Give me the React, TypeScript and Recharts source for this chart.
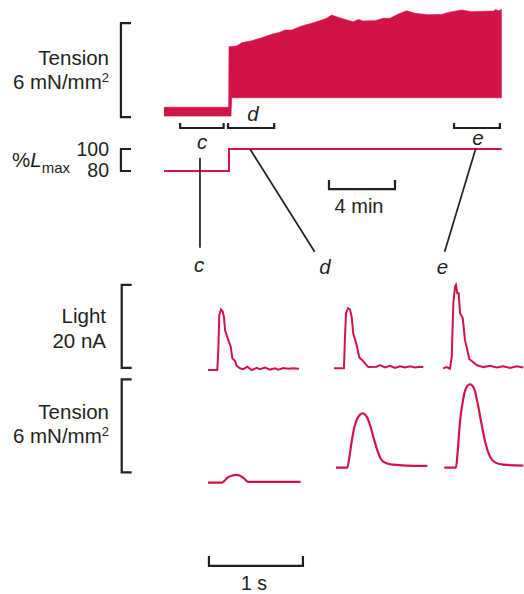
import { ComposedChart, Area, Line, XAxis, YAxis } from 'recharts'

const RED = '#d21346'
const INK = '#231f20'
const FONT = '"Liberation Sans", Arial, Helvetica, sans-serif'

// slow record, time in minutes; tension envelope in mN/mm² (resting level / twitch peaks)
const slowTime = [0, 3.92, 3.94, 4.06, 4.1, 4.41, 4.71, 5.32, 5.92, 6.53, 7.03, 7.33, 7.74, 8.35, 8.95, 9.56, 9.86, 10.16, 10.47, 10.97, 11.47, 11.78, 12.08, 12.48, 12.79, 13.29, 13.7, 14.2, 14.71, 15.21, 16.02, 16.83, 17.23, 18.04, 18.65, 19.45, 19.96, 20.1, 20.26, 20.47]
const slowTensionLow = [0.06, 0.06, 0.06, 0.06, 1.23, 1.23, 1.23, 1.23, 1.23, 1.23, 1.23, 1.23, 1.23, 1.23, 1.23, 1.23, 1.23, 1.23, 1.23, 1.23, 1.23, 1.23, 1.23, 1.23, 1.23, 1.23, 1.23, 1.23, 1.23, 1.23, 1.23, 1.23, 1.23, 1.23, 1.23, 1.23, 1.23, 1.23, 1.23, 1.23]
const slowTensionHigh = [0.62, 0.62, 4.49, 4.5, 4.5, 4.53, 4.74, 4.87, 5.06, 5.28, 5.41, 5.55, 5.55, 5.81, 5.98, 6.19, 6.3, 6.51, 6.4, 6.23, 6.08, 6.23, 6.13, 6.15, 6.15, 6.3, 6.3, 6.57, 6.78, 6.62, 6.53, 6.55, 6.68, 6.83, 6.72, 6.75, 6.76, 6.87, 6.78, 6.87]

// muscle length, % of Lmax
const lengthTime = [0, 3.94, 3.94, 20.47]
const lengthPct = [80, 80, 100, 100]

// windows c, d, e (minutes) and the links down to the fast records
const windowNames = ['c', 'd', 'e']
const windowStart = [0.98, 3.88, 17.58]
const windowEnd = [3.61, 6.68, 20.36]
const linkTopTime = [2.18, 5.21, 18.9]
const linkTopPct = [92, 100, 100.6]
const linkBottomTime = [2.18, 9.13, 17.01]
const linkBottomPct = [10.3, 6.6, 6.6]

// fast records, time in s; light in nA, tension in mN/mm²
const cLightTime = [0, 0.099, 0.11, 0.12, 0.138, 0.156, 0.17, 0.181, 0.216, 0.241, 0.259, 0.287, 0.305, 0.34, 0.376, 0.418, 0.465, 0.518, 0.553, 0.606, 0.66, 0.713, 0.748, 0.801, 0.854, 0.907, 0.968]
const cLight = [0, 0, 4.8, 13.3, 14.6, 14.1, 12.8, 9.6, 7.2, 5.7, 2.8, 2.2, 1.0, 0.4, 0.2, 0.8, 0, 0.5, 0.2, 0.6, 0.1, 0.4, 0.1, 0.5, 0.3, 0.4, 0.3]
const cForceTime = [0, 0.146, 0.175, 0.199, 0.252, 0.298, 0.34, 0.383, 0.429, 0.986]
const cForce = [0, 0, 0.12, 0.28, 0.45, 0.5, 0.45, 0.28, 0.05, 0.05]

const dLightTime = [0, 0.106, 0.117, 0.128, 0.149, 0.17, 0.188, 0.205, 0.241, 0.269, 0.295, 0.33, 0.365, 0.454, 0.489, 0.543, 0.596, 0.649, 0.702, 0.755, 0.809, 0.862, 0.915, 0.95]
const dLight = [0.4, 0.4, 8.0, 13.7, 14.9, 14.6, 12.8, 8.8, 6.0, 3.0, 2.5, 1.6, 0.7, 0.8, 1.2, 0.6, 1.0, 0.5, 0.9, 0.6, 0.9, 0.6, 0.8, 0.7]
const dForceTime = [0.021, 0.141, 0.162, 0.188, 0.223, 0.259, 0.305, 0.348, 0.383, 0.418, 0.454, 0.507, 0.56, 0.631, 0.773, 0.993]
const dForce = [0.97, 0.97, 1.57, 2.65, 3.72, 4.26, 4.48, 4.26, 3.72, 2.97, 2.22, 1.46, 1.25, 1.16, 1.1, 1.08]

const eLightTime = [0, 0.039, 0.074, 0.093, 0.11, 0.128, 0.138, 0.152, 0.167, 0.181, 0.21, 0.234, 0.259, 0.28, 0.316, 0.358, 0.429, 0.5, 0.571, 0.642, 0.713, 0.784, 0.854]
const eLight = [0.4, 0.7, 0.3, 3.2, 16.1, 20.1, 20.5, 18.5, 18.5, 13.7, 12.5, 7.2, 4.8, 2.6, 2.0, 1.2, 0.7, 1.0, 0.6, 0.9, 0.5, 0.9, 0.6]
const eForceTime = [0.014, 0.138, 0.156, 0.181, 0.21, 0.245, 0.287, 0.33, 0.365, 0.412, 0.457, 0.5, 0.553, 0.641, 0.854]
const eForce = [0.97, 0.97, 2.0, 3.94, 5.23, 6.09, 6.35, 6.09, 5.23, 3.72, 2.43, 1.68, 1.31, 1.16, 1.1]

// scale bars, in data units
const tensionBar = [0, 6]
const lengthBar = [80, 100]
const minutesBar = [10, 14]
const lightBar = [0.5, 20.5]
const twitchTensionBar = [0.67, 6.67]
const secondsBar = [0.01, 1.01]

type Pt = { t: number; v: number }
const zip = (ts: number[], vs: number[]): Pt[] => ts.map((t, i) => ({ t, v: vs[i] }))

// "[" shaped bar
const vBar = (x: number, tick: number, [lo, hi]: number[]): Pt[] => [
  { t: tick, v: hi }, { t: x, v: hi }, { t: x, v: lo }, { t: tick, v: lo },
]
// open-topped bar
const hBar = ([a, b]: number[], y: number, tick: number): Pt[] => [
  { t: a, v: tick }, { t: a, v: y }, { t: b, v: y }, { t: b, v: tick },
]

const inkLine = (key: string, data: Pt[], yAxisId: string, width = 2.2, color = INK, type: 'linear' | 'monotone' = 'linear') => (
  <Line
    key={key}
    data={data}
    dataKey="v"
    yAxisId={yAxisId}
    type={type}
    stroke={color}
    strokeWidth={width}
    strokeLinejoin="miter"
    dot={false}
    activeDot={false}
    isAnimationActive={false}
  />
)

const noMargin = { top: 0, right: 0, bottom: 0, left: 0 }

function SlowRecord() {
  const envelope = slowTime.map((t, i) => ({ t, tension: [slowTensionLow[i], slowTensionHigh[i]] }))
  const scaleX = -2.61
  const scaleTick = -2.0
  return (
    <ComposedChart width={524} height={290} margin={noMargin} style={{ position: 'absolute', left: 0, top: 0 }}>
      <XAxis type="number" dataKey="t" hide domain={[-9.94, 21.82]} allowDataOverflow />
      <YAxis yAxisId="tension" type="number" hide domain={[-11.04, 7.47]} allowDataOverflow />
      <YAxis yAxisId="length" type="number" hide domain={[-28.18, 235.45]} allowDataOverflow />
      <Area
        data={envelope}
        dataKey="tension"
        yAxisId="tension"
        type="linear"
        stroke={RED}
        strokeWidth={0.6}
        fill={RED}
        fillOpacity={1}
        dot={false}
        activeDot={false}
        isAnimationActive={false}
      />
      {inkLine('length', zip(lengthTime, lengthPct), 'length', 2, RED)}
      {inkLine('tensionBar', vBar(scaleX, scaleTick, tensionBar), 'tension')}
      {inkLine('lengthBar', vBar(scaleX, scaleTick, lengthBar), 'length')}
      {inkLine('minutesBar', hBar(minutesBar, 63.6, 71.8), 'length')}
      {windowNames.map((n, i) => inkLine(`win-${n}`, hBar([windowStart[i], windowEnd[i]], -0.7, -0.38), 'tension'))}
      {windowNames.map((n, i) =>
        inkLine(
          `link-${n}`,
          [
            { t: linkTopTime[i], v: linkTopPct[i] },
            { t: linkBottomTime[i], v: linkBottomPct[i] },
          ],
          'length',
          1.7,
        ),
      )}
    </ComposedChart>
  )
}

interface FastProps {
  left: number
  width: number
  domain: number[]
  light: Pt[]
  force: Pt[]
  withScales?: boolean
}

function FastRecord({ left, width, domain, light, force, withScales }: FastProps) {
  return (
    <ComposedChart width={width} height={324} margin={noMargin} style={{ position: 'absolute', left, top: 270 }}>
      <XAxis type="number" dataKey="t" hide domain={domain} allowDataOverflow />
      <YAxis yAxisId="light" type="number" hide domain={[-53.98, 24.1]} allowDataOverflow />
      <YAxis yAxisId="force" type="number" hide domain={[-7.18, 13.72]} allowDataOverflow />
      {inkLine('light', light, 'light', 2, RED)}
      {inkLine('force', force, 'force', 2.2, RED, 'monotone')}
      {withScales && inkLine('lightBar', vBar(-0.918, -0.812, lightBar), 'light')}
      {withScales && inkLine('forceBar', vBar(-0.918, -0.812, twitchTensionBar), 'force')}
      {withScales && inkLine('secondsBar', hBar(secondsBar, -5.37, -4.73), 'force')}
    </ComposedChart>
  )
}

function Labels() {
  const base = { fontFamily: FONT, fontSize: 20.5, fill: INK }
  const end = { ...base, textAnchor: 'end' as const }
  const mid = { ...base, textAnchor: 'middle' as const }
  const it = { ...mid, fontStyle: 'italic' as const }
  return (
    <svg width={524} height={594} style={{ position: 'absolute', left: 0, top: 0, pointerEvents: 'none' }}>
      <text x={109} y={65} {...end}>Tension</text>
      <text x={109} y={89} {...end}>
        <tspan>6 mN/mm</tspan>
        <tspan dy={-7.5} fontSize={13}>2</tspan>
      </text>
      <text x={12} y={167} {...base}>
        <tspan>%</tspan>
        <tspan fontStyle="italic">L</tspan>
        <tspan dy={6} fontSize={15}>max</tspan>
      </text>
      <text x={109} y={155.5} {...end} fontSize={19.5}>100</text>
      <text x={109} y={177} {...end} fontSize={19.5}>80</text>

      <text x={253} y={120.5} {...it}>d</text>
      <text x={202} y={148.5} {...it}>c</text>
      <text x={478} y={145} {...it}>e</text>
      <text x={359} y={213} {...mid} fontSize={20}>4 min</text>

      <text x={199} y={271.5} {...it}>c</text>
      <text x={325} y={273.5} {...it}>d</text>
      <text x={442.5} y={274} {...it}>e</text>

      <text x={106} y={323} {...end}>Light</text>
      <text x={106} y={347.5} {...end}>20 nA</text>
      <text x={109} y={419} {...end}>Tension</text>
      <text x={109} y={443} {...end}>
        <tspan>6 mN/mm</tspan>
        <tspan dy={-7.5} fontSize={13}>2</tspan>
      </text>
      <text x={254} y={590} {...mid} fontSize={19.5}>1 s</text>
    </svg>
  )
}

export default function App() {
  return (
    <div style={{ position: 'absolute', left: 0, top: 0, width: 524, height: 594, overflow: 'hidden', background: '#fff' }}>
      <SlowRecord />
      <FastRecord
        left={0}
        width={310}
        domain={[-2.2128, 1.0851]}
        light={zip(cLightTime, cLight)}
        force={zip(cForceTime, cForce)}
        withScales
      />
      <FastRecord left={334} width={100} domain={[0, 1.0638]} light={zip(dLightTime, dLight)} force={zip(dForceTime, dForce)} />
      <FastRecord left={443} width={81} domain={[0, 0.8617]} light={zip(eLightTime, eLight)} force={zip(eForceTime, eForce)} />
      <Labels />
    </div>
  )
}
